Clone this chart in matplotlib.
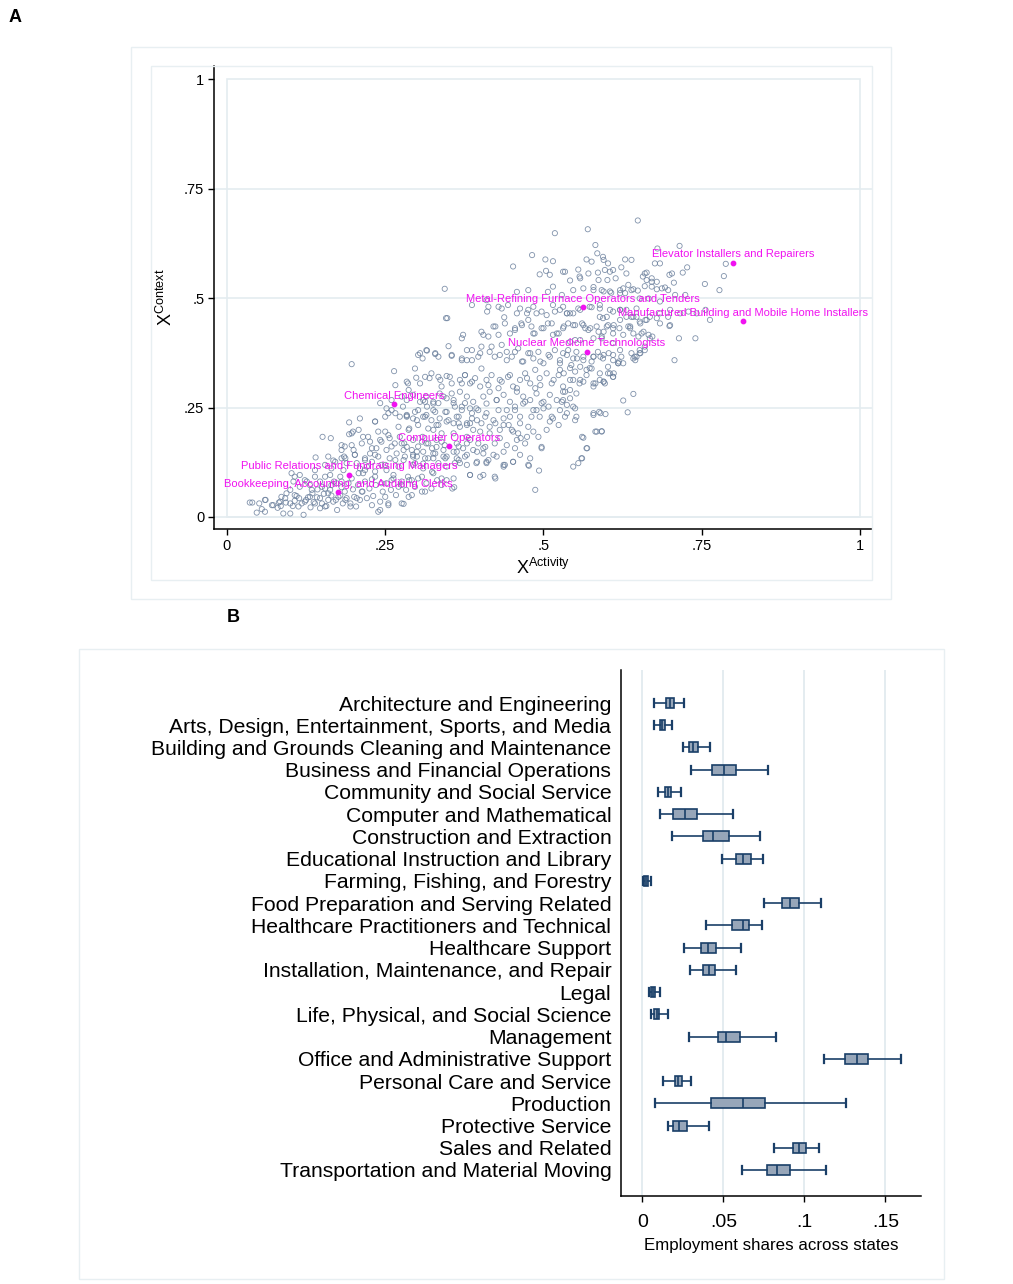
import numpy as np
import matplotlib
matplotlib.use("Agg")
from matplotlib import pyplot as plt
from matplotlib.patches import Rectangle

plt.rcParams['font.family'] = ['Liberation Sans', 'DejaVu Sans']
plt.rcParams['mathtext.fontset'] = 'custom'
plt.rcParams['mathtext.rm'] = 'Liberation Sans'

# ---- panel A: occupations, (X activity, X context)
scatter_pts = [
    (0.649, 0.677), (0.570, 0.657), (0.518, 0.648), (0.582, 0.621), (0.715, 0.619),
    (0.680, 0.613), (0.585, 0.602), (0.482, 0.598), (0.503, 0.588), (0.515, 0.584),
    (0.568, 0.588), (0.576, 0.583), (0.594, 0.594), (0.602, 0.579), (0.629, 0.588),
    (0.676, 0.579), (0.684, 0.579), (0.727, 0.570), (0.452, 0.572), (0.494, 0.554),
    (0.504, 0.562), (0.510, 0.553), (0.531, 0.560), (0.542, 0.540), (0.555, 0.565),
    (0.557, 0.549), (0.571, 0.556), (0.586, 0.558), (0.597, 0.564), (0.601, 0.541),
    (0.610, 0.564), (0.614, 0.545), (0.631, 0.556), (0.657, 0.549), (0.663, 0.558),
    (0.671, 0.545), (0.699, 0.553), (0.720, 0.558), (0.706, 0.535), (0.755, 0.532),
    (0.778, 0.518), (0.344, 0.521), (0.410, 0.495), (0.458, 0.514), (0.476, 0.518),
    (0.507, 0.514), (0.515, 0.526), (0.529, 0.507), (0.547, 0.518), (0.563, 0.522),
    (0.579, 0.525), (0.592, 0.518), (0.607, 0.512), (0.621, 0.518), (0.629, 0.511),
    (0.642, 0.520), (0.649, 0.517), (0.660, 0.527), (0.671, 0.537), (0.679, 0.520),
    (0.692, 0.524), (0.387, 0.484), (0.413, 0.480), (0.434, 0.476), (0.444, 0.484),
    (0.463, 0.476), (0.476, 0.473), (0.484, 0.480), (0.497, 0.469), (0.515, 0.484),
    (0.526, 0.473), (0.537, 0.465), (0.542, 0.465), (0.547, 0.465), (0.558, 0.473),
    (0.576, 0.479), (0.589, 0.476), (0.594, 0.454), (0.610, 0.469), (0.621, 0.450),
    (0.631, 0.473), (0.639, 0.457), (0.647, 0.476), (0.652, 0.446), (0.668, 0.457),
    (0.684, 0.465), (0.697, 0.457), (0.699, 0.436), (0.716, 0.465), (0.729, 0.469),
    (0.742, 0.465), (0.756, 0.473), (0.763, 0.450), (0.346, 0.454), (0.348, 0.454),
    (0.373, 0.416), (0.371, 0.408), (0.405, 0.416), (0.413, 0.412), (0.421, 0.435),
    (0.429, 0.416), (0.438, 0.456), (0.447, 0.419), (0.455, 0.431), (0.465, 0.442),
    (0.476, 0.450), (0.481, 0.435), (0.486, 0.419), (0.497, 0.431), (0.507, 0.442),
    (0.515, 0.416), (0.524, 0.419), (0.531, 0.431), (0.539, 0.442), (0.550, 0.404),
    (0.563, 0.438), (0.571, 0.427), (0.584, 0.435), (0.592, 0.412), (0.602, 0.438),
    (0.610, 0.419), (0.620, 0.431), (0.634, 0.435), (0.642, 0.419), (0.650, 0.412),
    (0.658, 0.423), (0.666, 0.416), (0.672, 0.412), (0.700, 0.438), (0.714, 0.408),
    (0.740, 0.408), (0.350, 0.390), (0.302, 0.370), (0.309, 0.362), (0.316, 0.380),
    (0.329, 0.372), (0.334, 0.366), (0.355, 0.368), (0.371, 0.362), (0.379, 0.358),
    (0.387, 0.381), (0.397, 0.366), (0.402, 0.389), (0.415, 0.377), (0.423, 0.366),
    (0.434, 0.393), (0.442, 0.377), (0.450, 0.366), (0.460, 0.385), (0.468, 0.355),
    (0.476, 0.374), (0.484, 0.362), (0.492, 0.377), (0.500, 0.351), (0.510, 0.366),
    (0.518, 0.381), (0.526, 0.358), (0.537, 0.370), (0.544, 0.347), (0.552, 0.377),
    (0.563, 0.358), (0.576, 0.339), (0.579, 0.366), (0.586, 0.377), (0.594, 0.362),
    (0.602, 0.343), (0.610, 0.370), (0.618, 0.351), (0.623, 0.366), (0.644, 0.366),
    (0.652, 0.374), (0.660, 0.381), (0.707, 0.358), (0.197, 0.349), (0.264, 0.333),
    (0.286, 0.305), (0.299, 0.318), (0.305, 0.305), (0.320, 0.317), (0.334, 0.320),
    (0.347, 0.322), (0.355, 0.305), (0.368, 0.313), (0.376, 0.324), (0.384, 0.305),
    (0.392, 0.317), (0.400, 0.298), (0.410, 0.313), (0.418, 0.324), (0.429, 0.294),
    (0.434, 0.309), (0.444, 0.320), (0.452, 0.298), (0.463, 0.313), (0.471, 0.328),
    (0.479, 0.305), (0.487, 0.294), (0.494, 0.317), (0.505, 0.328), (0.513, 0.305),
    (0.524, 0.324), (0.531, 0.298), (0.542, 0.313), (0.550, 0.332), (0.557, 0.305),
    (0.568, 0.324), (0.579, 0.298), (0.589, 0.313), (0.597, 0.305), (0.602, 0.328),
    (0.610, 0.320), (0.618, 0.351), (0.193, 0.216), (0.210, 0.225), (0.234, 0.218),
    (0.252, 0.248), (0.255, 0.237), (0.260, 0.244), (0.273, 0.229), (0.278, 0.252),
    (0.284, 0.231), (0.294, 0.225), (0.302, 0.244), (0.310, 0.229), (0.316, 0.252),
    (0.323, 0.221), (0.329, 0.240), (0.336, 0.225), (0.347, 0.240), (0.358, 0.214),
    (0.363, 0.229), (0.371, 0.244), (0.379, 0.214), (0.387, 0.225), (0.394, 0.248),
    (0.402, 0.214), (0.410, 0.237), (0.421, 0.221), (0.429, 0.244), (0.437, 0.210),
    (0.447, 0.229), (0.455, 0.252), (0.463, 0.214), (0.471, 0.263), (0.481, 0.229),
    (0.489, 0.244), (0.497, 0.260), (0.508, 0.252), (0.515, 0.225), (0.526, 0.244),
    (0.537, 0.256), (0.550, 0.248), (0.552, 0.229), (0.579, 0.237), (0.588, 0.240),
    (0.598, 0.235), (0.626, 0.266), (0.633, 0.239), (0.642, 0.281), (0.151, 0.183),
    (0.164, 0.180), (0.193, 0.189), (0.199, 0.195), (0.215, 0.183), (0.226, 0.172),
    (0.242, 0.176), (0.250, 0.195), (0.257, 0.180), (0.265, 0.168), (0.273, 0.183),
    (0.280, 0.168), (0.288, 0.202), (0.294, 0.176), (0.302, 0.161), (0.309, 0.183),
    (0.315, 0.168), (0.326, 0.199), (0.331, 0.176), (0.339, 0.191), (0.344, 0.164),
    (0.358, 0.191), (0.363, 0.168), (0.373, 0.157), (0.379, 0.183), (0.389, 0.199),
    (0.397, 0.168), (0.405, 0.157), (0.415, 0.191), (0.423, 0.168), (0.431, 0.180),
    (0.442, 0.164), (0.450, 0.199), (0.458, 0.176), (0.464, 0.180), (0.497, 0.157),
    (0.563, 0.181), (0.569, 0.157), (0.584, 0.195), (0.592, 0.196), (0.102, 0.100),
    (0.115, 0.096), (0.140, 0.136), (0.160, 0.138), (0.168, 0.129), (0.181, 0.134),
    (0.185, 0.138), (0.189, 0.123), (0.202, 0.142), (0.205, 0.123), (0.210, 0.111),
    (0.215, 0.100), (0.221, 0.115), (0.229, 0.126), (0.234, 0.104), (0.239, 0.138),
    (0.244, 0.119), (0.252, 0.107), (0.257, 0.134), (0.263, 0.096), (0.271, 0.115),
    (0.279, 0.130), (0.286, 0.092), (0.294, 0.119), (0.300, 0.138), (0.310, 0.111),
    (0.318, 0.134), (0.326, 0.100), (0.334, 0.123), (0.342, 0.138), (0.347, 0.115),
    (0.358, 0.088), (0.363, 0.134), (0.368, 0.123), (0.384, 0.096), (0.394, 0.123),
    (0.400, 0.092), (0.410, 0.123), (0.413, 0.130), (0.423, 0.092), (0.437, 0.115),
    (0.439, 0.119), (0.452, 0.126), (0.477, 0.117), (0.493, 0.106), (0.487, 0.062),
    (0.555, 0.123), (0.560, 0.134), (0.036, 0.033), (0.040, 0.033), (0.047, 0.010),
    (0.055, 0.018), (0.060, 0.012), (0.051, 0.031), (0.061, 0.039), (0.073, 0.027),
    (0.080, 0.021), (0.082, 0.033), (0.085, 0.025), (0.089, 0.008), (0.093, 0.033),
    (0.100, 0.008), (0.104, 0.025), (0.107, 0.037), (0.110, 0.048), (0.114, 0.043),
    (0.118, 0.031), (0.121, 0.005), (0.125, 0.039), (0.128, 0.045), (0.132, 0.022),
    (0.135, 0.054), (0.137, 0.034), (0.142, 0.045), (0.143, 0.063), (0.147, 0.020),
    (0.150, 0.031), (0.153, 0.053), (0.157, 0.025), (0.160, 0.039), (0.163, 0.062),
    (0.165, 0.049), (0.169, 0.081), (0.172, 0.039), (0.174, 0.016), (0.179, 0.049),
    (0.181, 0.068), (0.183, 0.031), (0.186, 0.058), (0.189, 0.043), (0.192, 0.077),
    (0.195, 0.031), (0.199, 0.063), (0.201, 0.046), (0.204, 0.024), (0.207, 0.073),
    (0.210, 0.039), (0.214, 0.058), (0.218, 0.081), (0.221, 0.043), (0.225, 0.065),
    (0.229, 0.086), (0.231, 0.048), (0.235, 0.073), (0.239, 0.012), (0.242, 0.035),
    (0.246, 0.058), (0.250, 0.046), (0.252, 0.077), (0.255, 0.031), (0.259, 0.062),
    (0.263, 0.088), (0.267, 0.050), (0.271, 0.069), (0.276, 0.081), (0.279, 0.030),
    (0.283, 0.062), (0.288, 0.084), (0.292, 0.050), (0.297, 0.069), (0.302, 0.088),
    (0.308, 0.058), (0.315, 0.077), (0.323, 0.065), (0.332, 0.084), (0.339, 0.073),
    (0.347, 0.084), (0.356, 0.065), (0.359, 0.068), (0.115, 0.069), (0.126, 0.081),
    (0.131, 0.073), (0.139, 0.092), (0.147, 0.081), (0.155, 0.092), (0.163, 0.096),
    (0.173, 0.077), (0.179, 0.092), (0.184, 0.107), (0.165, 0.111), (0.155, 0.065),
    (0.094, 0.054), (0.100, 0.062), (0.086, 0.046), (0.105, 0.081), (0.405, 0.275),
    (0.415, 0.286), (0.426, 0.267), (0.437, 0.279), (0.447, 0.263), (0.458, 0.286),
    (0.468, 0.275), (0.479, 0.267), (0.489, 0.282), (0.500, 0.263), (0.510, 0.279),
    (0.521, 0.267), (0.531, 0.286), (0.542, 0.271), (0.379, 0.275), (0.389, 0.263),
    (0.368, 0.286), (0.358, 0.260), (0.347, 0.271), (0.336, 0.282), (0.326, 0.263),
    (0.315, 0.275), (0.305, 0.263), (0.294, 0.279), (0.284, 0.267), (0.276, 0.275),
    (0.368, 0.206), (0.384, 0.214), (0.400, 0.195), (0.415, 0.206), (0.431, 0.199),
    (0.445, 0.210), (0.463, 0.229), (0.476, 0.206), (0.484, 0.195), (0.505, 0.199),
    (0.510, 0.218), (0.524, 0.210), (0.534, 0.229), (0.494, 0.229), (0.471, 0.168),
    (0.479, 0.134), (0.463, 0.142), (0.455, 0.157), (0.437, 0.149), (0.421, 0.142),
    (0.405, 0.145), (0.389, 0.153), (0.379, 0.142), (0.358, 0.149), (0.342, 0.153),
    (0.326, 0.145), (0.310, 0.149), (0.294, 0.142), (0.279, 0.153), (0.268, 0.145),
    (0.252, 0.153), (0.236, 0.157), (0.226, 0.145), (0.218, 0.134), (0.200, 0.153),
    (0.186, 0.161), (0.181, 0.164),
    # middle of the cloud, second reading
    (0.411, 0.469), (0.429, 0.480), (0.458, 0.465), (0.474, 0.465), (0.489, 0.465),
    (0.505, 0.461), (0.518, 0.469), (0.537, 0.465), (0.555, 0.476), (0.589, 0.457),
    (0.600, 0.457), (0.621, 0.473), (0.642, 0.457), (0.661, 0.450), (0.402, 0.423),
    (0.424, 0.435), (0.439, 0.442), (0.455, 0.427), (0.466, 0.438), (0.484, 0.419),
    (0.500, 0.431), (0.513, 0.442), (0.521, 0.419), (0.532, 0.435), (0.547, 0.438),
    (0.561, 0.442), (0.574, 0.431), (0.587, 0.423), (0.600, 0.435), (0.611, 0.438),
    (0.637, 0.431), (0.653, 0.442), (0.305, 0.374), (0.315, 0.381), (0.329, 0.374),
    (0.355, 0.370), (0.371, 0.358), (0.379, 0.381), (0.387, 0.358), (0.400, 0.374),
    (0.418, 0.389), (0.431, 0.370), (0.442, 0.358), (0.455, 0.377), (0.466, 0.355),
    (0.479, 0.374), (0.495, 0.355), (0.508, 0.370), (0.526, 0.351), (0.539, 0.381),
    (0.553, 0.362), (0.576, 0.355), (0.590, 0.366), (0.603, 0.374), (0.619, 0.355),
    (0.642, 0.362), (0.653, 0.374), (0.297, 0.339), (0.284, 0.309), (0.323, 0.328),
    (0.337, 0.313), (0.352, 0.320), (0.376, 0.324), (0.387, 0.309), (0.402, 0.339),
    (0.413, 0.301), (0.431, 0.313), (0.447, 0.324), (0.458, 0.294), (0.474, 0.317),
    (0.487, 0.336), (0.495, 0.301), (0.516, 0.313), (0.532, 0.328), (0.542, 0.290),
    (0.558, 0.313), (0.568, 0.336), (0.582, 0.305), (0.595, 0.309), (0.611, 0.328),
    (0.310, 0.267), (0.326, 0.259), (0.342, 0.275), (0.358, 0.267), (0.371, 0.252),
    (0.384, 0.248), (0.397, 0.244), (0.410, 0.259), (0.426, 0.267), (0.442, 0.244),
    (0.455, 0.244), (0.468, 0.259), (0.484, 0.244), (0.500, 0.248), (0.513, 0.229),
    (0.529, 0.263), (0.537, 0.237), (0.550, 0.221), (0.579, 0.233), (0.590, 0.237),
    (0.284, 0.233), (0.300, 0.221), (0.315, 0.233), (0.331, 0.210), (0.347, 0.218),
    (0.366, 0.229), (0.379, 0.210), (0.395, 0.221), (0.408, 0.229), (0.424, 0.214),
    (0.437, 0.225), (0.452, 0.195), (0.460, 0.191), (0.474, 0.183), (0.492, 0.183),
    (0.284, 0.160), (0.300, 0.149), (0.318, 0.168), (0.331, 0.160), (0.363, 0.149),
    (0.379, 0.168), (0.395, 0.149), (0.408, 0.160), (0.426, 0.138), (0.437, 0.119),
    (0.452, 0.126), (0.410, 0.126), (0.395, 0.126), (0.379, 0.119), (0.366, 0.130),
    (0.347, 0.138), (0.326, 0.134), (0.310, 0.122), (0.294, 0.138), (0.384, 0.096),
    (0.405, 0.096), (0.424, 0.088), (0.476, 0.119), (0.497, 0.160), (0.561, 0.134),
    (0.568, 0.157), (0.547, 0.115), (0.561, 0.183), (0.582, 0.195), (0.592, 0.195),
    # lower left, second reading
    (0.060, 0.039), (0.071, 0.027), (0.084, 0.035), (0.092, 0.043), (0.100, 0.031),
    (0.107, 0.050), (0.113, 0.024), (0.123, 0.035), (0.131, 0.046), (0.139, 0.031),
    (0.147, 0.043), (0.155, 0.024), (0.160, 0.054), (0.168, 0.035), (0.176, 0.046),
    (0.187, 0.039), (0.195, 0.024), (0.205, 0.043), (0.213, 0.058), (0.229, 0.027),
    (0.242, 0.016), (0.255, 0.027), (0.276, 0.031), (0.287, 0.046), (0.313, 0.058),
    (0.134, 0.062), (0.150, 0.069), (0.165, 0.073), (0.181, 0.081), (0.197, 0.088),
    (0.208, 0.100), (0.218, 0.107), (0.234, 0.092), (0.244, 0.077), (0.260, 0.084),
    (0.276, 0.073), (0.292, 0.084), (0.308, 0.092), (0.324, 0.103), (0.339, 0.088),
    (0.123, 0.084), (0.107, 0.092), (0.139, 0.107), (0.155, 0.119), (0.171, 0.126),
    (0.187, 0.134), (0.202, 0.142), (0.218, 0.130), (0.234, 0.142), (0.250, 0.119),
    (0.266, 0.130), (0.281, 0.138), (0.297, 0.123), (0.313, 0.134), (0.329, 0.145),
    (0.345, 0.134), (0.360, 0.123), (0.376, 0.138), (0.181, 0.153), (0.197, 0.164),
    (0.213, 0.168), (0.229, 0.157), (0.244, 0.172), (0.260, 0.161), (0.276, 0.168),
    (0.292, 0.153), (0.308, 0.172), (0.324, 0.157), (0.339, 0.172), (0.366, 0.161),
    (0.384, 0.176), (0.197, 0.191), (0.208, 0.199), (0.223, 0.183), (0.239, 0.195),
    (0.255, 0.187), (0.271, 0.206), (0.287, 0.199), (0.302, 0.210), (0.318, 0.202),
    (0.334, 0.210), (0.350, 0.221), (0.366, 0.214), (0.234, 0.218), (0.250, 0.229),
    (0.266, 0.237), (0.284, 0.229), (0.297, 0.240), (0.313, 0.229), (0.326, 0.244),
    (0.345, 0.240), (0.360, 0.252), (0.376, 0.260), (0.387, 0.237), (0.242, 0.260),
    (0.260, 0.267), (0.313, 0.263), (0.334, 0.260), (0.355, 0.282), (0.371, 0.305),
    (0.339, 0.298), (0.313, 0.320), (0.287, 0.290), (0.266, 0.301),
    # upper right, second reading
    (0.703, 0.556), (0.788, 0.578), (0.785, 0.550), (0.534, 0.560), (0.558, 0.545),
    (0.595, 0.587), (0.605, 0.560), (0.623, 0.570), (0.639, 0.587), (0.587, 0.541),
    (0.626, 0.522), (0.634, 0.530), (0.660, 0.556), (0.663, 0.541), (0.671, 0.526),
    (0.679, 0.537), (0.687, 0.522), (0.697, 0.518), (0.708, 0.507), (0.724, 0.507),
    (0.579, 0.518), (0.595, 0.515), (0.605, 0.515), (0.621, 0.511), (0.639, 0.518),
    (0.652, 0.499), (0.666, 0.499), (0.684, 0.492), (0.700, 0.473), (0.645, 0.358),
    (0.531, 0.480), (0.573, 0.480), (0.589, 0.484), (0.605, 0.473), (0.621, 0.473),
    (0.631, 0.457), (0.647, 0.457), (0.663, 0.450), (0.679, 0.454), (0.684, 0.442),
    (0.550, 0.438), (0.566, 0.431), (0.595, 0.423), (0.610, 0.431), (0.626, 0.416),
    (0.637, 0.435), (0.655, 0.419), (0.668, 0.408), (0.542, 0.400), (0.558, 0.404),
    (0.579, 0.408), (0.592, 0.408), (0.610, 0.397), (0.621, 0.381), (0.639, 0.374),
    (0.652, 0.381), (0.660, 0.389), (0.531, 0.374), (0.547, 0.362), (0.563, 0.366),
    (0.579, 0.366), (0.595, 0.370), (0.610, 0.358), (0.626, 0.351), (0.647, 0.366),
    (0.526, 0.336), (0.542, 0.340), (0.558, 0.343), (0.573, 0.340), (0.589, 0.328),
    (0.605, 0.328), (0.547, 0.313), (0.563, 0.309), (0.579, 0.305), (0.595, 0.309),
    (0.610, 0.320), (0.534, 0.286), (0.552, 0.282), (0.531, 0.267), (0.547, 0.252),
]

highlight_names = [
    "Elevator Installers and Repairers",
    "Manufactured Building and Mobile Home Installers",
    "Metal-Refining Furnace Operators and Tenders",
    "Nuclear Medicine Technologists",
    "Chemical Engineers",
    "Computer Operators",
    "Public Relations and Fundraising Managers",
    "Bookkeeping, Accounting, and Auditing Clerks",
]
highlight_x = [0.799, 0.815, 0.563, 0.568, 0.264, 0.351, 0.193, 0.176]
highlight_y = [0.581, 0.447, 0.479, 0.377, 0.258, 0.161, 0.097, 0.056]

# ---- panel B: employment shares across states by occupation group
groups = [
    "Architecture and Engineering",
    "Arts, Design, Entertainment, Sports, and Media",
    "Building and Grounds Cleaning and Maintenance",
    "Business and Financial Operations",
    "Community and Social Service",
    "Computer and Mathematical",
    "Construction and Extraction",
    "Educational Instruction and Library",
    "Farming, Fishing, and Forestry",
    "Food Preparation and Serving Related",
    "Healthcare Practitioners and Technical",
    "Healthcare Support",
    "Installation, Maintenance, and Repair",
    "Legal",
    "Life, Physical, and Social Science",
    "Management",
    "Office and Administrative Support",
    "Personal Care and Service",
    "Production",
    "Protective Service",
    "Sales and Related",
    "Transportation and Material Moving",
]
whis_lo = [0.0070, 0.0070, 0.0251, 0.0300, 0.0097, 0.0107, 0.0183, 0.0494, 0.0002, 0.0749, 0.0395,
           0.0259, 0.0294, 0.0041, 0.0053, 0.0290, 0.1119, 0.0126, 0.0080, 0.0156, 0.0811, 0.0613]
q1 = [0.0146, 0.0107, 0.0290, 0.0432, 0.0140, 0.0189, 0.0372, 0.0576, 0.0012, 0.0860, 0.0556,
      0.0362, 0.0377, 0.0056, 0.0074, 0.0465, 0.1253, 0.0200, 0.0424, 0.0189, 0.0928, 0.0770]
med = [0.0171, 0.0123, 0.0315, 0.0502, 0.0156, 0.0265, 0.0438, 0.0623, 0.0023, 0.0914, 0.0619,
       0.0405, 0.0414, 0.0068, 0.0091, 0.0514, 0.1325, 0.0222, 0.0621, 0.0224, 0.0969, 0.0831]
q3 = [0.0198, 0.0138, 0.0342, 0.0578, 0.0175, 0.0340, 0.0533, 0.0671, 0.0033, 0.0967, 0.0656,
      0.0457, 0.0449, 0.0080, 0.0105, 0.0605, 0.1391, 0.0243, 0.0759, 0.0274, 0.1012, 0.0912]
whis_hi = [0.0255, 0.0181, 0.0420, 0.0776, 0.0237, 0.0560, 0.0726, 0.0745, 0.0051, 0.1103, 0.0739,
           0.0609, 0.0576, 0.0109, 0.0156, 0.0825, 0.1597, 0.0300, 0.1259, 0.0412, 0.1091, 0.1132]

grid_col = '#e4ecf0'
frame_col = '#e8eff2'
navy = '#1a3f68'
box_fill = '#97a6b9'
magenta = '#f012f0'

W, H = 1013, 1284
fig = plt.figure(figsize=(W / 100, H / 100), dpi=100)


def px_axes(l, t, r, b):
    """axes from pixel box (left, top, right, bottom)"""
    return fig.add_axes([l / W, 1 - b / H, (r - l) / W, (b - t) / H])


def px_frame(l, t, r, b):
    fig.patches.append(Rectangle((l / W, 1 - b / H), (r - l) / W, (b - t) / H,
                                 transform=fig.transFigure, fill=False,
                                 edgecolor=frame_col, linewidth=1.0))


# frames round the two graphs
px_frame(131, 47, 891, 599)
px_frame(151, 66, 872, 580)
px_frame(79, 649, 944, 1279)

# ---------------- panel A
axA = px_axes(214, 66, 872, 529)
pts = np.array(scatter_pts)
axA.set_xlim(-0.0205, 1.019)
axA.set_ylim(-0.0274, 1.0297)
for yv in [0, 0.25, 0.5, 0.75]:
    axA.axhline(yv, color=grid_col, lw=1.2, zorder=0)
axA.add_patch(Rectangle((0, 0), 1, 1, fill=False, edgecolor=grid_col, lw=1.2, zorder=0))
axA.scatter(pts[:, 0], pts[:, 1], s=14, facecolors='none', edgecolors='#6a7f9c',
            linewidths=0.6, alpha=0.85, zorder=2)
axA.scatter(highlight_x, highlight_y, s=10, color=magenta, zorder=3)
for name, hx, hy in zip(highlight_names, highlight_x, highlight_y):
    axA.annotate(name, (hx, hy), xytext=(0, 2.5), textcoords='offset points',
                 ha='center', va='bottom', fontsize=8, color=magenta, zorder=4)
axA.set_xticks([0, 0.25, 0.5, 0.75, 1])
axA.set_xticklabels(['0', '.25', '.5', '.75', '1'])
axA.set_yticks([0, 0.25, 0.5, 0.75, 1])
axA.set_yticklabels(['0', '.25', '.5', '.75', '1'])
axA.tick_params(labelsize=10.5, length=4, width=1, pad=3)
for side in ['top', 'right']:
    axA.spines[side].set_visible(False)
for side in ['left', 'bottom']:
    axA.spines[side].set_linewidth(1.1)
axA.set_xlabel(r'$\mathrm{X}^{\mathrm{Activity}}$', fontsize=13, labelpad=4)
axA.set_ylabel(r'$\mathrm{X}^{\mathrm{Context}}$', fontsize=13, labelpad=6)

# ---------------- panel B
axB = px_axes(621, 670, 921, 1196)
stats = []
for i in range(len(groups)):
    stats.append(dict(med=med[i], q1=q1[i], q3=q3[i], whislo=whis_lo[i],
                      whishi=whis_hi[i], fliers=[]))
pos = np.arange(len(groups))
axB.bxp(stats, positions=pos, orientation='horizontal', widths=0.45, capwidths=0.36,
        patch_artist=True, showfliers=False,
        boxprops=dict(facecolor=box_fill, edgecolor=navy, linewidth=1.2),
        medianprops=dict(color=navy, linewidth=1.2),
        whiskerprops=dict(color=navy, linewidth=1.2),
        capprops=dict(color=navy, linewidth=1.6))
axB.set_xlim(-0.01315, 0.172)
axB.set_ylim(22.17, -1.484)
for xv in [0, 0.05, 0.1, 0.15]:
    axB.axvline(xv, color=grid_col, lw=1.4, zorder=0)
axB.set_yticks(pos)
axB.set_yticklabels(groups, fontsize=15.2)
axB.tick_params(axis='y', length=0, pad=7)
axB.set_xticks([0, 0.05, 0.1, 0.15])
axB.set_xticklabels(['0', '.05', '.1', '.15'])
axB.tick_params(axis='x', labelsize=14, length=4, width=1, pad=9)
for side in ['top', 'right']:
    axB.spines[side].set_visible(False)
for side in ['left', 'bottom']:
    axB.spines[side].set_linewidth(1.1)
axB.set_xlabel('Employment shares across states', fontsize=12.2, labelpad=5)

fig.text(15 / W, 1 - 18 / H, 'A', fontsize=13, fontweight='bold', ha='center', va='center')
fig.text(233 / W, 1 - 618 / H, 'B', fontsize=13, fontweight='bold', ha='center', va='center')

fig.savefig('out.png', dpi=100)
